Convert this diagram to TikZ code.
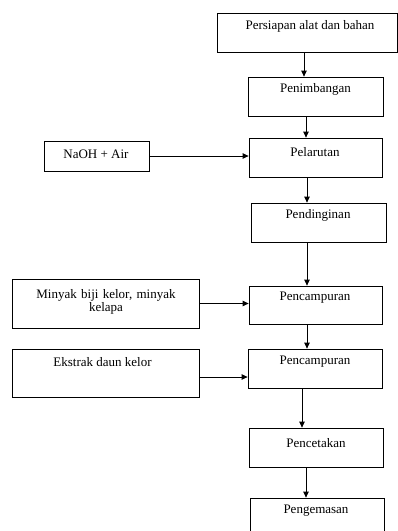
\documentclass[tikz,border=0pt]{standalone}
\usepackage{fontspec}
\setmainfont{Liberation Serif}
\usetikzlibrary{arrows.meta}
\begin{document}
\begin{tikzpicture}[x=1pt,y=-1pt,
  box/.style={draw, line width=0.8pt, inner sep=0pt},
  txt/.style={font=\fontsize{13}{13}\selectfont, inner sep=0pt, align=center},
  arr/.style={line width=0.8pt, -{Triangle[length=6pt,width=5.5pt]}}]
\useasboundingbox (0,0) rectangle (398,531);
\node[box, minimum width=180pt, minimum height=39pt] (b1) at (307,32.5) {};
\node[box, minimum width=135pt, minimum height=39pt] (b2) at (315.5,96.5) {};
\node[box, minimum width=105pt, minimum height=30pt] (naoh) at (96.5,156) {};
\node[box, minimum width=133pt, minimum height=39pt] (b3) at (315.5,157.5) {};
\node[box, minimum width=135pt, minimum height=39pt] (b4) at (318.5,222.5) {};
\node[box, minimum width=187pt, minimum height=49pt] (minyak) at (105.5,303.5) {};
\node[box, minimum width=133pt, minimum height=38pt] (b5) at (315.5,305) {};
\node[box, minimum width=187pt, minimum height=48pt] (ekstrak) at (105.5,373) {};
\node[box, minimum width=134pt, minimum height=39pt] (b6) at (315,368.5) {};
\node[box, minimum width=134pt, minimum height=39pt] (b7) at (316,447.5) {};
\node[box, minimum width=134pt, minimum height=42pt] (b8) at (317,519) {};
\node[txt] (t1) at (310,26) {Persiapan alat dan bahan};
\node[txt] (t2) at (315.5,89) {Penimbangan};
\node[txt] (tn) at (96,154) {NaOH + Air};
\node[txt] (t3) at (315,152) {Pelarutan};
\node[txt] (t4) at (318,215) {Pendinginan};
\node[txt, text width=170pt] (tm) at (106,301.5) {Minyak biji kelor, minyak\\kelapa};
\node[txt] (t5) at (315,298) {Pencampuran};
\node[txt] (te) at (102.5,362) {Ekstrak daun kelor};
\node[txt] (t6) at (315,362) {Pencampuran};
\node[txt] (t7) at (316,443) {Pencetakan};
\node[txt] (t8) at (316,511) {Pengemasan};
\draw[arr] ([xshift=-3pt]b1.south) -- ([xshift=-3pt]b1.south |- b2.north);
\draw[arr] ([xshift=-9.5pt]b2.south) -- ([xshift=-9.5pt]b2.south |- b3.north);
\draw[arr] (naoh.east) -- (naoh.east -| b3.west);
\draw[arr] ([xshift=-8.5pt]b3.south) -- ([xshift=-8.5pt]b3.south |- b4.north);
\draw[arr] ([xshift=-11.5pt]b4.south) -- ([xshift=-11.5pt]b4.south |- b5.north);
\draw[arr] (minyak.east) -- (minyak.east -| b5.west);
\draw[arr] ([xshift=-8.5pt]b5.south) -- ([xshift=-8.5pt]b5.south |- b6.north);
\draw[arr] ([yshift=-4pt]ekstrak.east) -- ([yshift=-4pt]ekstrak.east -| b6.west);
\draw[arr] ([xshift=-13pt]b6.south) -- ([xshift=-13pt]b6.south |- b7.north);
\draw[arr] ([xshift=-10pt]b7.south) -- ([xshift=-10pt]b7.south |- b8.north);
\end{tikzpicture}
\end{document}
